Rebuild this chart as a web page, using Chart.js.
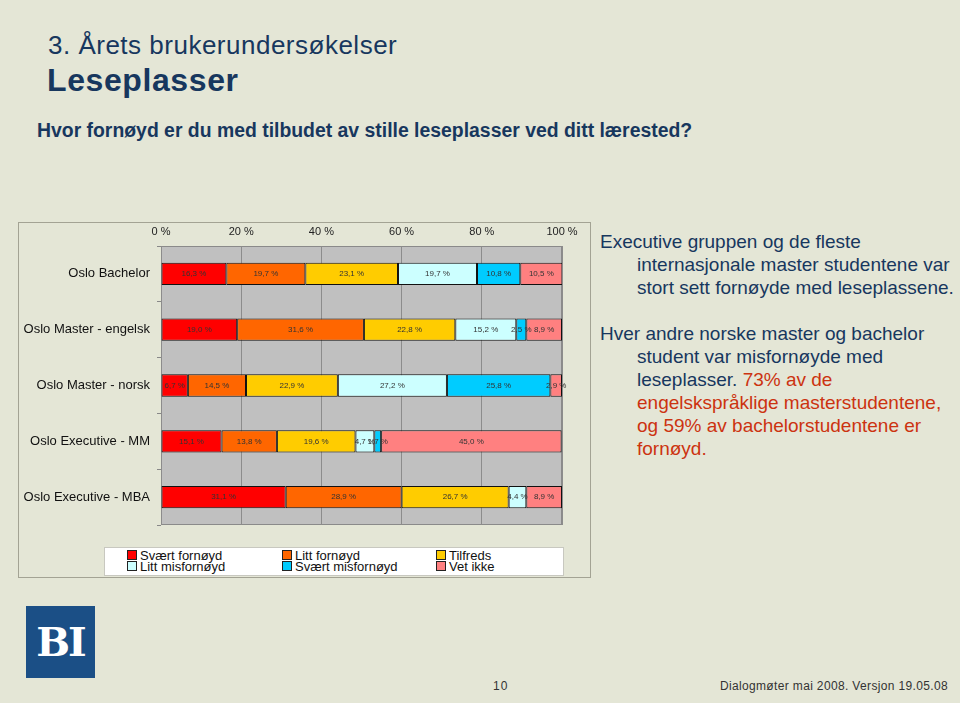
<!DOCTYPE html>
<html>
<head>
<meta charset="utf-8">
<script src="https://cdn.jsdelivr.net/npm/chart.js@4"></script>
<style>
  body { margin:0; background:#e4e6d6; font-family:"Liberation Sans", Arial, sans-serif; }
  #page { position:relative; width:960px; height:703px; overflow:hidden; background:#e4e6d6; }
  .abs { position:absolute; white-space:nowrap; }
  #t1 { left:48px; top:30px; font-size:26px; letter-spacing:0.5px; color:#17375e; }
  #t2 { left:47px; top:62px; font-size:32px; letter-spacing:0.6px; font-weight:bold; color:#17375e; }
  #q { left:37px; top:119px; font-size:19.4px; font-weight:bold; color:#17375e; }
  #panel { position:absolute; left:18px; top:222px; width:571px; height:354px; border:1px solid #a3a394; }
  #chartBox { position:absolute; left:18px; top:222px; width:572px; height:320px; }
  #legend { position:absolute; left:104px; top:547px; width:460px; height:29px; background:#fff; border:1px solid #c8c8c0; box-sizing:border-box; font-size:13px; color:#111; }
  .lg { position:absolute; line-height:12px; }
  .sw { display:inline-block; width:8px; height:8px; border:1px solid #222; margin-right:3px; vertical-align:0px; }
  .txt { left:600px; font-size:19px; line-height:23px; color:#17375e; white-space:nowrap; }
  .red { color:#cc3310; }
  #logo { position:absolute; left:26px; top:606px; width:69px; height:72px; background:#1b4f86; color:#fff; font-family:"DejaVu Serif", serif; font-weight:bold; font-size:40px; text-align:center; line-height:72px; letter-spacing:-2px; }
  #pg { left:493px; top:679px; font-size:12px; color:#333; letter-spacing:1px; }
  #foot { right:12px; top:679px; font-size:12px; color:#333; letter-spacing:0.35px; }
</style>
</head>
<body>
<div id="page">
  <div class="abs" id="t1">3. Årets brukerundersøkelser</div>
  <div class="abs" id="t2">Leseplasser</div>
  <div class="abs" id="q">Hvor fornøyd er du med tilbudet av stille leseplasser ved ditt lærested?</div>

  <div id="panel"></div>
  <div id="chartBox"><canvas id="myChart" width="572" height="320"></canvas></div>
  <div id="legend"></div>

  <div class="abs txt" style="top:230px;">Executive gruppen og de fleste<br>
    <span style="padding-left:37px">internasjonale master studentene var</span><br>
    <span style="padding-left:37px">stort sett fornøyde med leseplassene.</span></div>
  <div class="abs txt" style="top:322px;">Hver andre norske master og bachelor<br>
    <span style="padding-left:37px">student var misfornøyde med</span><br>
    <span style="padding-left:37px">leseplasser. <span class="red">73% av de</span></span><br>
    <span style="padding-left:37px" class="red">engelskspråklige masterstudentene,</span><br>
    <span style="padding-left:37px" class="red">og 59% av bachelorstudentene er</span><br>
    <span style="padding-left:37px" class="red">fornøyd.</span></div>

  <div id="logo">BI</div>
  <div class="abs" id="pg">10</div>
  <div class="abs" id="foot">Dialogmøter mai 2008. Versjon 19.05.08</div>
</div>

<script>
// Kategorier og serier (prosent)
var categories = ['Oslo Bachelor', 'Oslo Master - engelsk', 'Oslo Master - norsk', 'Oslo Executive - MM', 'Oslo Executive - MBA'];
var seriesNames = ['Svært fornøyd', 'Litt fornøyd', 'Tilfreds', 'Litt misfornøyd', 'Svært misfornøyd', 'Vet ikke'];
var svaertFornoyd    = [16.3, 19.0, 6.7, 15.1, 31.1];
var littFornoyd      = [19.7, 31.6, 14.5, 13.8, 28.9];
var tilfreds         = [23.1, 22.8, 22.9, 19.6, 26.7];
var littMisfornoyd   = [19.7, 15.2, 27.2, 4.7, 4.4];
var svaertMisfornoyd = [10.8, 2.5, 25.8, 1.7, 0];
var vetIkke          = [10.5, 8.9, 2.9, 45.0, 8.9];
var tickLabels = ['0 %', '20 %', '40 %', '60 %', '80 %', '100 %'];
var seriesColors = ['#ff0000', '#ff6600', '#ffcc00', '#ccffff', '#00ccff', '#ff8080'];

var seriesData = [svaertFornoyd, littFornoyd, tilfreds, littMisfornoyd, svaertMisfornoyd, vetIkke];

function makeDatasets() {
    var ds = [];
    for (var i = 0; i < seriesNames.length; i++) {
        ds.push({
            label: seriesNames[i],
            data: seriesData[i],
            backgroundColor: seriesColors[i],
            borderColor: '#111',
            borderWidth: 1,
            borderSkipped: false,
            barPercentage: 1,
            categoryPercentage: 0.4
        });
    }
    return ds;
}

// grå bakgrunn i plottområdet
var plotBg = {
    id: 'plotBg',
    beforeDraw: function(chart) {
        var a = chart.chartArea, ctx = chart.ctx;
        ctx.save();
        ctx.fillStyle = '#c0c0c0';
        ctx.fillRect(a.left, a.top, a.right - a.left, a.bottom - a.top);
        ctx.strokeStyle = '#8a8a8a';
        ctx.lineWidth = 1;
        ctx.strokeRect(a.left + 0.5, a.top + 0.5, a.right - a.left - 1, a.bottom - a.top - 1);
        ctx.restore();
    }
};

// verdier inne i stolpene
var barLabels = {
    id: 'barLabels',
    afterDatasetsDraw: function(chart) {
        var ctx = chart.ctx;
        ctx.save();
        ctx.font = '8px "Liberation Sans", Arial, sans-serif';
        ctx.fillStyle = '#333';
        ctx.textAlign = 'center';
        ctx.textBaseline = 'middle';
        chart.data.datasets.forEach(function(ds, i) {
            var meta = chart.getDatasetMeta(i);
            meta.data.forEach(function(bar, j) {
                var v = ds.data[j];
                if (!v) return;
                var p = bar.getProps(['x', 'base', 'y'], true);
                ctx.fillText(v.toFixed(1).replace('.', ',') + ' %', (p.x + p.base) / 2, p.y);
            });
        });
        ctx.restore();
    }
};

function buildLegend() {
    var el = document.getElementById('legend');
    var cols = [22, 177, 331];
    for (var i = 0; i < seriesNames.length; i++) {
        var d = document.createElement('div');
        d.className = 'lg';
        d.style.left = cols[i % 3] + 'px';
        d.style.top = (i < 3 ? 2 : 13) + 'px';
        d.innerHTML = '<span class="sw" style="background:' + seriesColors[i] + '"></span>' + seriesNames[i];
        el.appendChild(d);
    }
}

function onPageStart() {
    var myChart = new Chart('myChart', {
        type: 'bar',
        data: { labels: categories, datasets: makeDatasets() },
        options: {
            indexAxis: 'y',
            responsive: false,
            animation: false,
            layout: { padding: { left: 0, right: 28, top: 0, bottom: 17 } },
            plugins: { legend: { display: false }, tooltip: { enabled: false } },
            scales: {
                x: {
                    position: 'top',
                    stacked: true,
                    min: 0, max: 100,
                    ticks: {
                        stepSize: 20,
                        padding: 7,
                        color: '#222',
                        font: { family: '"Liberation Sans", Arial', size: 11 },
                        callback: function(v, i) { return tickLabels[i]; }
                    },
                    grid: { color: '#8c8c8c', drawTicks: false },
                    border: { display: false },
                    afterFit: function(s) { s.height = 24; }
                },
                y: {
                    stacked: true,
                    ticks: {
                        padding: 7,
                        color: '#111',
                        font: { family: '"Liberation Sans", Arial', size: 13 }
                    },
                    grid: { offset: true, drawOnChartArea: false, tickLength: 4, color: '#888' },
                    border: { display: false },
                    afterFit: function(s) { s.width = 143; }
                }
            }
        },
        plugins: [plotBg, barLabels]
    });
    buildLegend();
}

onPageStart();
</script>
</body>
</html>
